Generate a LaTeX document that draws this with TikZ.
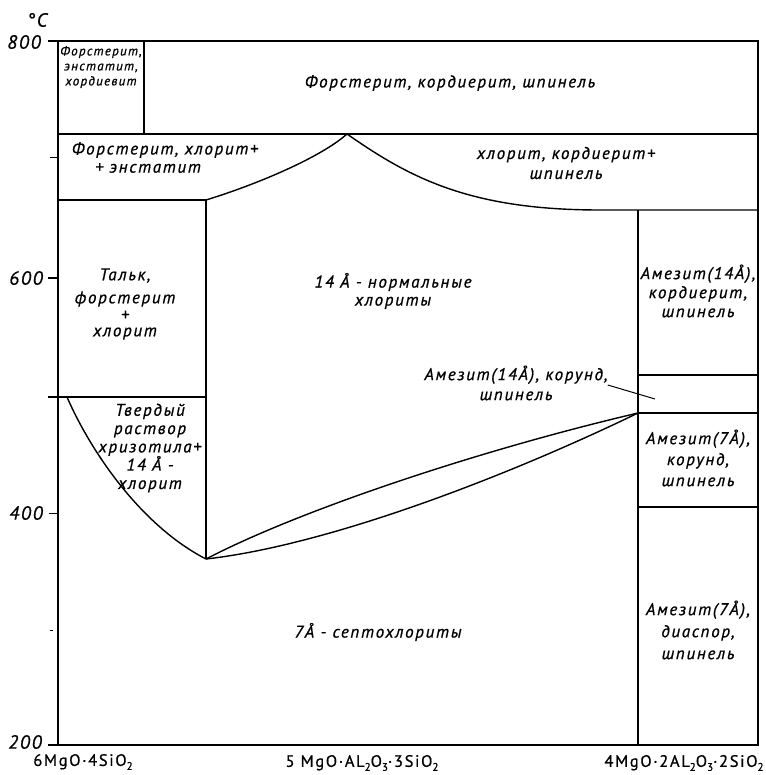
\documentclass[tikz,border=0pt]{standalone}
\usepackage{fontspec}
\setmainfont{PT Sans}
\newfontfamily\lf[LetterSpace=10,FakeBold=0.8]{PT Sans}
\newcommand{\lsub}[1]{\raisebox{-4pt}{\fontsize{11}{11}\selectfont #1}}
\begin{document}
\begin{tikzpicture}[x=1pt,y=-1pt,
  ln/.style={line width=1.4pt},
  thin/.style={line width=1pt},
  lab/.style={font={\lf\itshape\fontsize{17}{19}\selectfont}, align=center, inner sep=0pt},
  smalllab/.style={font={\lf\itshape\fontsize{13}{15}\selectfont}, align=center, inner sep=0pt},
  axlab/.style={font={\lf\itshape\fontsize{19}{20}\selectfont}, inner sep=0pt},
  botlab/.style={font={\lf\fontsize{16.5}{19}\selectfont}, inner sep=0pt}]
\useasboundingbox (0,0) rectangle (765,775);
% key points
\coordinate (TL) at (58,41);
\coordinate (TR) at (758,41);
\coordinate (BL) at (58,745);
\coordinate (BR) at (758,745);
\coordinate (peak) at (347,134);
\coordinate (talcTR) at (206,200);
\coordinate (cusp) at (206,559);
\coordinate (amP) at (638,413);
% frame
\draw[ln] (48,745) -- (BR) -- (TR) -- (TL) -- (BL);
% ticks
\draw[ln] (48,41) -- (TL);
\draw[thin] (50,158) -- (58,158);
\draw[ln] (48,278) -- (58,278);
\draw[thin] (49,513) -- (58,513);
\draw[thin] (50,630) -- (53,630);
% upper region
\draw[ln] (144,41) -- (144,134);
\draw[ln] (58,134) -- (758,134);
\draw[ln] (58,200) -- (talcTR);
\draw[ln] (talcTR) .. controls (255,185) and (320,158) .. (peak);
\draw[ln] (peak) .. controls (410,178) and (470,210) .. (600,210) -- (758,210);
\draw[ln] (talcTR) -- (cusp);
\draw[ln] (48,397) -- (206,397);
\draw[ln] (67,397) .. controls (90,450) and (140,525) .. (cusp);
\draw[ln] (cusp) .. controls (300,510) and (480,450) .. (amP);
\draw[ln] (cusp) .. controls (330,545) and (510,475) .. (amP);
% right column
\draw[ln] (638,210) -- (638,745);
\draw[ln] (638,375) -- (758,375);
\draw[ln] (638,413) -- (758,413);
\draw[ln] (638,507) -- (758,507);
% labels
\node[smalllab] (f1) at (101,67) {Форстерит,\\энстатит,\\хордиевит};
\node[lab] (f2) at (450,83) {Форстерит, кордиерит, шпинель};
\node[lab] (f3a) at (165,150) {Форстерит, хлорит+};
\node[lab] (f3b) at (148,168) {+ энстатит};
\node[lab, font={\lf\itshape\fontsize{17}{20}\selectfont}] (f4) at (566,163) {хлорит, кордиерит+\\шпинель};
\node[lab] (talc) at (125,304) {Тальк,\\[4pt]форстерит\\[-2pt]+\\[-3pt]хлорит};
\node[lab, font={\lf\itshape\fontsize{17}{18.3}\selectfont}] (serp) at (150,448) {Твердый\\раствор\\хризотила+\\14 Å -\\хлорит};
\node[lab, font={\lf\itshape\fontsize{17}{18}\selectfont}] (n14) at (393,291) {14 Å - нормальные\\хлориты};
\node[lab] (am14c) at (698,291) {Амезит(14Å),\\кордиерит,\\шпинель};
\node[lab, font={\lf\itshape\fontsize{17}{20}\selectfont}] (am14k) at (516,383) {Амезит(14Å), корунд,\\шпинель};
\node[lab, font={\lf\itshape\fontsize{17}{21}\selectfont}] (am7k) at (698,458) {Амезит(7Å),\\корунд,\\шпинель};
\node[lab, font={\lf\itshape\fontsize{17}{22}\selectfont}] (am7d) at (698,630) {Амезит(7Å),\\диаспор,\\шпинель};
\node[lab] (sept) at (378,632) {7Å - септохлориты};
\coordinate (ldr) at (655,399);
\draw[thin] ([yshift=-2pt]am14k.east) -- (ldr);
% axis labels
\node[axlab] (degc) at (37,20) {°C};
\node[axlab] (y800) at (24,42) {800};
\node[axlab] (y600) at (26,278) {600};
\node[axlab] (y400) at (26,513) {400};
\node[axlab] (y200) at (25,742) {200};
\node[botlab] (c1) at (83,762) {6MgO·4SiO\lsub{2}};
\node[botlab] (c2) at (362,763) {5 MgO·AL\lsub{2}O\lsub{3}·3SiO\lsub{2}};
\node[botlab] (c3) at (684,763) {4MgO·2AL\lsub{2}O\lsub{3}·2SiO\lsub{2}};
\end{tikzpicture}
\end{document}
